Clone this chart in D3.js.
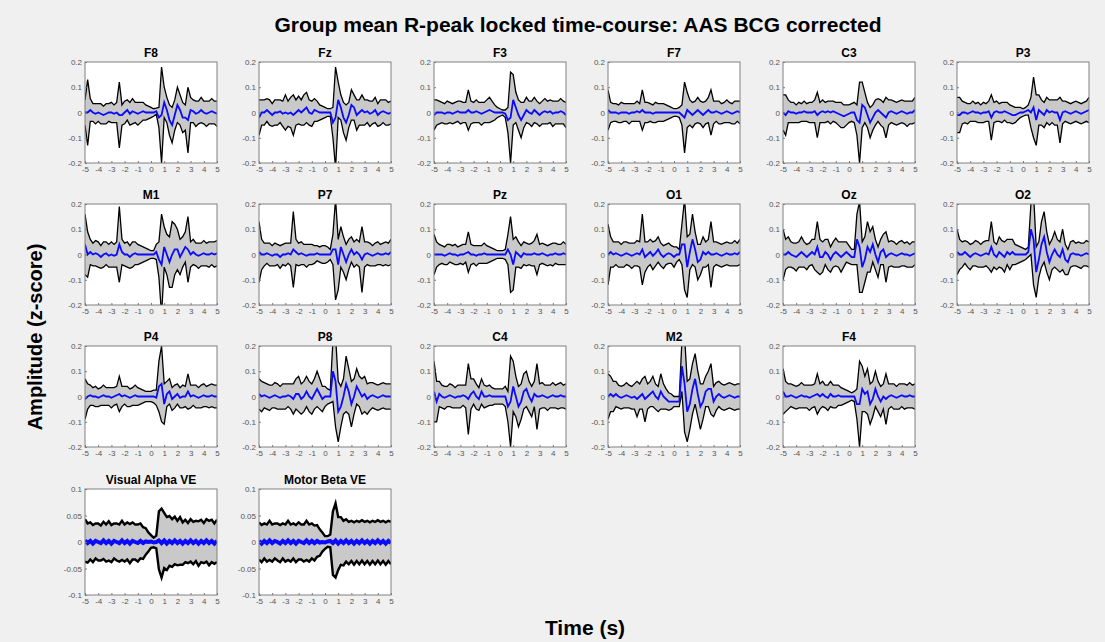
<!DOCTYPE html>
<html lang="en-US">
<head>
<meta charset="utf-8">
<script src="https://d3js.org/d3.v7.min.js"></script>
<style>
    body { margin: 0; background: #f0f0f0; }
    svg text { font-family: "Liberation Sans", Arial, sans-serif; }
</style>
</head>
<body>
<svg width="1105" height="642"></svg>

<script>
// time axis, 0.2 s steps
var time = [-5,-4.8,-4.6,-4.4,-4.2,-4,-3.8,-3.6,-3.4,-3.2,-3,
    -2.8,-2.6,-2.4,-2.2,-2,-1.8,-1.6,-1.4,-1.2,-1,
    -0.8,-0.6,-0.4,-0.2,0,0.2,0.4,0.6,0.8,1,
    1.2,1.4,1.6,1.8,2,2.2,2.4,2.6,2.8,3,
    3.2,3.4,3.6,3.8,4,4.2,4.4,4.6,4.8,5];

var xTicks = [-5,-4,-3,-2,-1,0,1,2,3,4,5];
var yTicksChan = [-0.2,-0.1,0,0.1,0.2];
var yTicksVE = [-0.1,-0.05,0,0.05,0.1];

// group mean (blue) and spread (half width of grey band) per channel
var F8_mean = [0,0,.01,0,-.005,0,-.005,-.01,-.005,0,0,
    -.005,0,-.01,-.01,0,.01,-.005,.005,0,-.005,
    0,.005,0,0,0,0,.005,-.02,-.01,.04,
    .01,-.03,-.05,-.01,.03,.01,-.02,-.02,-.03,.01,
    .005,-.005,0,.01,0,-.005,0,.005,0,-.005];
var F8_sd = [.05,.13,.045,.035,.04,.035,.04,.035,.04,.035,.04,
    .035,.04,.13,.04,.045,.04,.045,.05,.04,.045,
    .04,.035,.03,.025,.02,.015,.012,.04,.19,.06,
    .05,.06,.07,.06,.07,.06,.06,.05,.13,.05,
    .045,.05,.045,.05,.045,.05,.045,.05,.045,.05];

var Fz_mean = [-.02,0,0,.01,0,-.01,0,0,.005,-.005,0,
    -.005,0,-.01,0,.01,0,.01,.02,0,-.005,
    .01,.005,0,0,0,0,0,-.04,-.02,.05,
    .02,-.02,-.04,-.01,.03,.02,-.01,0,.01,0,
    .005,-.005,0,.01,-.01,0,.005,0,-.005,0];
var Fz_sd = [.07,.05,.05,.045,.05,.045,.05,.05,.045,.05,.07,
    .05,.06,.08,.05,.055,.05,.06,.06,.05,.05,
    .045,.04,.03,.025,.02,.015,.015,.06,.2,.07,
    .05,.06,.07,.05,.06,.05,.06,.05,.06,.05,
    .045,.05,.045,.05,.045,.05,.045,.05,.045,.045];

var F3_mean = [-.01,0,0,0,-.005,0,0,-.005,0,.005,0,
    0,0,.01,0,0,.005,0,-.005,0,.005,
    .01,.005,0,0,0,0,-.005,-.03,-.02,.05,
    .02,-.01,-.03,-.01,.01,0,-.005,.01,0,-.01,
    0,.005,0,.005,-.005,0,0,.005,0,-.01];
var F3_sd = [.06,.05,.045,.04,.04,.045,.04,.04,.04,.04,.045,
    .04,.04,.08,.045,.04,.045,.04,.045,.04,.045,
    .05,.04,.03,.02,.015,.01,.015,.05,.18,.1,
    .06,.06,.07,.05,.05,.045,.05,.05,.045,.045,
    .045,.05,.045,.045,.05,.045,.045,.05,.045,.05];

var F7_mean = [.01,0,0,0,-.005,0,0,0,-.005,0,0,
    .005,0,.01,0,0,0,-.005,0,0,0,
    0,0,0,0,0,0,0,-.01,-.02,.01,
    0,-.01,0,.01,0,-.01,0,.01,0,0,
    .005,0,-.005,0,.005,0,-.005,0,.005,0];
var F7_sd = [.08,.04,.035,.035,.035,.04,.035,.035,.04,.035,.035,
    .04,.035,.08,.04,.04,.035,.035,.04,.035,.035,
    .035,.03,.025,.02,.015,.015,.02,.04,.14,.07,
    .05,.05,.045,.05,.045,.05,.045,.05,.09,.045,
    .04,.045,.04,.04,.045,.04,.04,.045,.04,.045];

var C3_mean = [0,-.01,.005,0,0,-.005,0,0,.005,0,0,
    0,.005,-.01,0,.005,0,.005,0,.005,0,
    -.005,-.01,-.015,-.01,-.005,0,0,-.03,-.04,.03,
    .02,-.01,-.04,-.02,0,.01,0,-.01,-.02,0,
    .005,0,-.005,0,.005,0,-.005,0,0,.01];
var C3_sd = [.07,.08,.045,.04,.04,.035,.04,.035,.04,.035,.04,
    .04,.045,.09,.04,.045,.04,.04,.045,.04,.04,
    .045,.05,.045,.04,.035,.035,.04,.06,.16,.09,
    .06,.05,.06,.05,.05,.045,.05,.05,.08,.05,
    .045,.045,.045,.045,.045,.045,.05,.045,.045,.05];

var P3_mean = [-.01,-.01,0,0,-.005,0,.005,0,0,-.005,0,
    0,.005,-.02,0,.005,0,0,.005,0,-.005,
    -.01,-.01,-.005,0,0,.005,.01,0,.02,-.03,
    .01,0,-.01,.01,0,.005,0,0,-.03,0,
    .005,0,-.005,0,.005,0,-.005,0,.005,.01];
var P3_sd = [.07,.07,.045,.04,.04,.035,.04,.035,.04,.035,.04,
    .035,.04,.09,.04,.04,.035,.04,.035,.04,.035,
    .035,.03,.025,.02,.015,.015,.02,.06,.12,.1,
    .06,.05,.05,.05,.05,.045,.05,.05,.09,.045,
    .04,.04,.04,.04,.04,.04,.04,.04,.04,.05];

var M1_mean = [.04,0,.01,0,.005,0,-.01,0,.005,-.005,0,
    -.005,0,.04,.01,0,0,-.01,0,.005,0,
    0,0,0,0,0,0,.01,-.02,-.04,.03,
    0,-.03,0,.02,.02,-.01,.01,.03,.02,0,
    .01,0,-.005,0,.005,0,0,.005,0,.005];
var M1_sd = [.12,.09,.05,.045,.05,.05,.045,.05,.045,.045,.05,
    .045,.05,.15,.05,.045,.05,.045,.05,.045,.04,
    .035,.03,.025,.02,.015,.015,.03,.07,.2,.08,
    .08,.1,.13,.1,.08,.07,.06,.06,.13,.05,
    .05,.045,.05,.045,.05,.045,.05,.045,.05,.05];

var P7_mean = [.01,0,0,.005,0,-.005,0,0,-.01,0,0,
    .005,0,.02,.01,0,.005,0,-.005,0,0,
    0,.005,0,0,0,0,0,.02,.02,-.04,
    .03,0,-.03,0,.02,0,.01,0,-.02,0,
    .005,0,-.005,0,.005,0,0,.005,0,.01];
var P7_sd = [.12,.06,.045,.04,.045,.04,.045,.04,.045,.04,.045,
    .04,.045,.15,.05,.045,.045,.04,.045,.04,.04,
    .035,.03,.03,.035,.035,.03,.02,.06,.2,.1,
    .08,.07,.07,.06,.05,.05,.05,.05,.13,.05,
    .045,.045,.04,.045,.045,.04,.045,.045,.045,.05];

var Pz_mean = [0,0,0,0,-.005,0,.005,0,0,-.005,0,
    0,.005,.01,0,0,-.005,0,0,.005,0,
    0,0,0,0,0,0,0,.02,0,-.04,
    .01,0,-.01,.005,0,0,0,.005,0,0,
    .005,0,-.005,0,0,.005,0,0,.005,0];
var Pz_sd = [.08,.05,.04,.035,.035,.04,.035,.035,.04,.035,.035,
    .04,.035,.08,.04,.035,.04,.035,.035,.04,.035,
    .03,.025,.02,.015,.015,.015,.02,.06,.15,.1,
    .06,.05,.045,.045,.045,.04,.045,.05,.08,.04,
    .04,.04,.04,.04,.045,.04,.04,.04,.045,.04];

var O1_mean = [0,.01,0,.005,0,-.005,0,.005,0,-.005,0,
    .005,0,.02,-.01,0,.01,-.005,.005,.02,0,
    -.01,0,.005,0,-.01,0,0,.04,.04,-.05,
    .01,.06,.02,-.03,-.02,.01,0,.01,0,0,
    .005,0,-.005,0,.005,0,0,.005,0,.01];
var O1_sd = [.12,.06,.05,.045,.05,.045,.05,.045,.045,.05,.045,
    .05,.05,.14,.06,.05,.05,.055,.05,.05,.045,
    .045,.04,.04,.035,.04,.03,.02,.08,.18,.12,
    .07,.1,.07,.07,.06,.06,.05,.05,.13,.05,
    .045,.045,.045,.045,.045,.045,.045,.05,.045,.05];

var Oz_mean = [0,0,.01,0,-.005,-.01,0,.01,0,-.01,0,
    .01,0,.03,-.01,-.01,.01,0,-.02,0,.01,
    0,-.01,0,.01,0,-.01,-.01,.06,.03,-.05,
    -.02,.03,.01,.04,0,-.03,.01,.02,-.01,0,
    .005,0,-.005,0,.005,0,0,-.005,0,.005];
var Oz_sd = [.1,.06,.06,.05,.05,.055,.05,.06,.05,.05,.045,
    .05,.06,.1,.07,.06,.05,.06,.05,.05,.055,
    .05,.06,.05,.04,.035,.03,.03,.1,.18,.1,
    .09,.1,.08,.07,.06,.06,.05,.06,.1,.05,
    .05,.05,.045,.05,.05,.045,.05,.045,.05,.045];

var O2_mean = [.01,0,0,.01,0,-.01,0,.005,0,-.005,0,
    .005,0,.03,0,-.01,.01,0,-.01,.01,0,
    .01,0,0,0,0,0,.01,.1,.06,-.07,
    -.02,.04,.07,.01,-.03,0,.02,0,-.01,.02,
    -.02,-.03,0,.005,0,0,-.005,0,.005,0];
var O2_sd = [.09,.06,.05,.045,.05,.05,.045,.05,.05,.045,.05,
    .05,.055,.1,.05,.05,.06,.055,.06,.05,.06,
    .05,.04,.035,.03,.025,.02,.02,.1,.18,.1,
    .07,.09,.1,.08,.07,.06,.07,.06,.06,.08,
    .06,.05,.05,.05,.045,.05,.05,.045,.05,.05];

var P4_mean = [-.01,0,.005,0,0,-.005,0,.005,0,0,-.005,
    0,.005,.01,0,.005,0,-.005,0,.005,0,
    0,0,0,0,0,0,-.005,.04,.05,-.03,
    .01,.02,-.01,0,.01,-.005,0,0,.02,0,
    .005,0,-.005,0,.005,0,0,.005,0,0];
var P4_sd = [.08,.05,.04,.035,.04,.035,.035,.04,.035,.035,.04,
    .035,.035,.07,.04,.035,.04,.035,.035,.04,.035,
    .03,.025,.02,.02,.02,.025,.03,.1,.15,.08,
    .05,.05,.045,.045,.04,.04,.045,.04,.07,.045,
    .04,.045,.04,.045,.045,.04,.045,.045,.045,.045];

var P8_mean = [.01,0,.005,0,-.005,0,.005,0,-.005,0,0,
    .005,0,-.01,.01,.01,-.01,0,.02,0,-.01,
    .01,.03,.01,-.01,0,0,0,.1,.06,-.06,
    -.04,0,.05,.02,-.03,0,.04,.02,0,.01,
    -.01,0,.005,0,-.005,0,.005,0,0,0];
var P8_sd = [.06,.06,.05,.05,.05,.045,.05,.05,.045,.05,.05,
    .045,.05,.06,.06,.07,.06,.06,.06,.06,.06,
    .06,.07,.06,.05,.04,.03,.025,.12,.18,.12,
    .08,.07,.11,.09,.09,.07,.07,.06,.07,.07,
    .06,.055,.05,.05,.05,.05,.05,.05,.05,.05];

var C4_mean = [.02,-.02,.01,0,-.005,0,.005,0,-.005,0,0,
    .005,0,-.01,.01,.02,0,-.01,.02,0,0,
    .005,0,0,0,0,0,0,-.04,-.02,.04,
    0,-.04,-.02,.02,.03,0,-.02,.01,0,0,
    .005,0,-.005,0,.005,0,0,.005,0,0];
var C4_sd = [.12,.08,.05,.045,.045,.04,.045,.045,.04,.045,.045,
    .04,.045,.14,.06,.05,.05,.045,.05,.045,.04,
    .04,.035,.03,.03,.03,.03,.04,.06,.18,.1,
    .08,.08,.07,.07,.07,.06,.06,.05,.13,.05,
    .05,.045,.05,.045,.05,.045,.05,.05,.045,.05];

var M2_mean = [0,.01,0,.01,0,-.005,0,.005,0,-.005,0,
    -.01,0,.01,-.01,0,.01,.02,0,-.01,.02,
    0,-.01,-.02,-.02,-.02,-.02,-.02,.12,.05,-.06,
    -.03,.03,.07,.01,-.04,-.02,.02,.03,.03,-.02,
    0,.01,0,-.005,0,.005,0,-.005,0,0];
var M2_sd = [.09,.07,.06,.05,.045,.045,.045,.05,.045,.045,.05,
    .07,.05,.06,.09,.05,.05,.06,.05,.05,.07,
    .05,.04,.035,.03,.02,.02,.02,.1,.19,.12,
    .1,.1,.1,.09,.09,.07,.06,.07,.1,.06,
    .055,.05,.05,.05,.05,.05,.05,.05,.05,.05];

var F4_mean = [.02,0,0,.005,0,-.005,0,.005,0,0,-.005,
    0,.005,.01,0,.01,0,-.005,.01,0,0,
    .005,0,0,0,0,0,0,-.03,-.03,.03,
    .01,.02,-.03,-.01,.03,0,-.02,0,-.01,0,
    .005,0,-.005,0,.005,0,0,.005,0,0];
var F4_sd = [.09,.06,.05,.045,.045,.045,.045,.05,.045,.045,.05,
    .045,.045,.08,.05,.05,.045,.05,.05,.045,.045,
    .04,.035,.03,.025,.02,.015,.02,.06,.17,.09,
    .07,.09,.08,.07,.07,.06,.06,.05,.1,.05,
    .045,.05,.045,.05,.045,.05,.045,.05,.045,.05];

var visAlpha_mean = [.003,-.002,.002,-.003,.002,0,-.002,.003,-.002,.002,-.003,
    .002,0,-.002,.003,-.002,.002,-.003,.002,0,-.002,
    .002,-.002,.001,0,.001,-.001,0,.003,-.002,.003,
    -.003,.002,-.002,.003,-.002,.002,-.003,.002,-.002,.003,
    -.002,.002,-.003,.002,-.002,.003,-.002,.002,-.003,.002];
var visAlpha_sd = [.04,.037,.035,.035,.033,.035,.033,.035,.035,.037,.035,
    .033,.035,.035,.037,.035,.035,.037,.035,.033,.035,
    .033,.03,.025,.018,.012,.009,.012,.055,.065,.052,
    .05,.047,.045,.045,.042,.045,.04,.04,.038,.04,
    .04,.038,.042,.04,.038,.04,.042,.04,.038,.04];

var motBeta_mean = [.002,-.003,.002,-.002,.003,-.002,.002,0,-.003,.002,-.002,
    .003,-.002,.002,-.003,.002,0,-.002,.003,-.002,.002,
    -.002,.002,-.001,0,-.001,.001,.002,-.002,.003,-.003,
    .002,-.002,.003,-.002,.002,-.003,.002,-.002,.003,-.002,
    .002,-.003,.002,-.002,.003,-.002,.002,-.003,.002,-.002];
var motBeta_sd = [.035,.035,.033,.035,.037,.035,.033,.035,.035,.033,.035,
    .037,.035,.033,.035,.035,.033,.035,.037,.035,.033,
    .033,.03,.025,.018,.012,.01,.012,.06,.07,.05,
    .045,.042,.04,.04,.038,.04,.038,.04,.038,.04,
    .038,.04,.038,.04,.038,.04,.038,.04,.038,.04];

var panels = [
    {name: "F8", mean: F8_mean, sd: F8_sd},
    {name: "Fz", mean: Fz_mean, sd: Fz_sd},
    {name: "F3", mean: F3_mean, sd: F3_sd},
    {name: "F7", mean: F7_mean, sd: F7_sd},
    {name: "C3", mean: C3_mean, sd: C3_sd},
    {name: "P3", mean: P3_mean, sd: P3_sd},
    {name: "M1", mean: M1_mean, sd: M1_sd},
    {name: "P7", mean: P7_mean, sd: P7_sd},
    {name: "Pz", mean: Pz_mean, sd: Pz_sd},
    {name: "O1", mean: O1_mean, sd: O1_sd},
    {name: "Oz", mean: Oz_mean, sd: Oz_sd},
    {name: "O2", mean: O2_mean, sd: O2_sd},
    {name: "P4", mean: P4_mean, sd: P4_sd},
    {name: "P8", mean: P8_mean, sd: P8_sd},
    {name: "C4", mean: C4_mean, sd: C4_sd},
    {name: "M2", mean: M2_mean, sd: M2_sd},
    {name: "F4", mean: F4_mean, sd: F4_sd},
    null,
    {name: "Visual Alpha VE", mean: visAlpha_mean, sd: visAlpha_sd, ve: true},
    {name: "Motor Beta VE", mean: motBeta_mean, sd: motBeta_sd, ve: true}
];

var svg = d3.select("svg");
svg.append("rect").attr("width", 1105).attr("height", 642).attr("fill", "#f0f0f0");

var colLeft = [85, 259, 434, 608, 783, 957];
var rowTop = [62, 204, 346, 489];
var rowHeight = [101, 101, 101, 106];
var panelWidth = 132;

panels.forEach(function(p, k) {
    if (!p) return;
    var row = Math.floor(k / 6), col = k % 6;
    var w = panelWidth, h = rowHeight[row];
    var lim = p.ve ? 0.1 : 0.2;
    var g = svg.append("g").attr("transform", `translate(${colLeft[col]},${rowTop[row]})`);

    var x = d3.scaleLinear().domain([-5, 5]).range([0, w]);
    var y = d3.scaleLinear().domain([-lim, lim]).range([h, 0]);

    g.append("rect").attr("width", w).attr("height", h).attr("fill", "#fff");

    var clipId = "clip" + k;
    g.append("clipPath").attr("id", clipId)
        .append("rect").attr("width", w).attr("height", h);

    var pts = time.map(function(t, i) { return {t: t, m: p.mean[i], s: p.sd[i]}; });
    var plot = g.append("g").attr("clip-path", `url(#${clipId})`);

    plot.append("path")
        .attr("d", d3.area().x(d => x(d.t)).y0(d => y(d.m - d.s)).y1(d => y(d.m + d.s))(pts))
        .attr("fill", "#c9c9c9");

    var bw = p.ve ? 2.4 : 1.3;
    plot.append("path")
        .attr("d", d3.line().x(d => x(d.t)).y(d => y(d.m + d.s))(pts))
        .attr("fill", "none").attr("stroke", "#000").attr("stroke-width", bw);
    plot.append("path")
        .attr("d", d3.line().x(d => x(d.t)).y(d => y(d.m - d.s))(pts))
        .attr("fill", "none").attr("stroke", "#000").attr("stroke-width", bw);

    plot.append("path")
        .attr("d", d3.line().x(d => x(d.t)).y(d => y(d.m))(pts))
        .attr("fill", "none").attr("stroke", "#0a0aff")
        .attr("stroke-width", p.ve ? 4 : 1.8);

    var xAxis = g.append("g").attr("transform", `translate(0,${h})`)
        .call(d3.axisBottom(x).tickValues(xTicks).tickFormat(d => String(d))
            .tickSizeInner(-2).tickSizeOuter(0).tickPadding(3));
    var yAxis = g.append("g")
        .call(d3.axisLeft(y).tickValues(p.ve ? yTicksVE : yTicksChan).tickFormat(d => String(d))
            .tickSizeInner(-2).tickSizeOuter(0).tickPadding(3));
    [xAxis, yAxis].forEach(function(a) {
        a.select(".domain").remove();
        a.selectAll("line").attr("stroke", "#777");
        a.selectAll("text").attr("fill", "#555").attr("font-size", 8);
    });

    g.append("rect").attr("width", w).attr("height", h)
        .attr("fill", "none").attr("stroke", "#808080").attr("stroke-width", 1);

    g.append("text")
        .attr("x", w / 2).attr("y", -5)
        .attr("text-anchor", "middle")
        .attr("font-size", 12).attr("font-weight", "bold")
        .text(p.name);
});

svg.append("text")
    .attr("x", 578).attr("y", 32)
    .attr("text-anchor", "middle")
    .attr("font-size", 21).attr("font-weight", "bold")
    .text("Group mean R-peak locked time-course: AAS BCG corrected");

svg.append("text")
    .attr("transform", "translate(42,337) rotate(-90)")
    .attr("text-anchor", "middle")
    .attr("font-size", 20).attr("font-weight", "bold")
    .text("Amplitude (z-score)");

svg.append("text")
    .attr("x", 585).attr("y", 635)
    .attr("text-anchor", "middle")
    .attr("font-size", 21).attr("font-weight", "bold")
    .text("Time (s)");
</script>
</body>
</html>
